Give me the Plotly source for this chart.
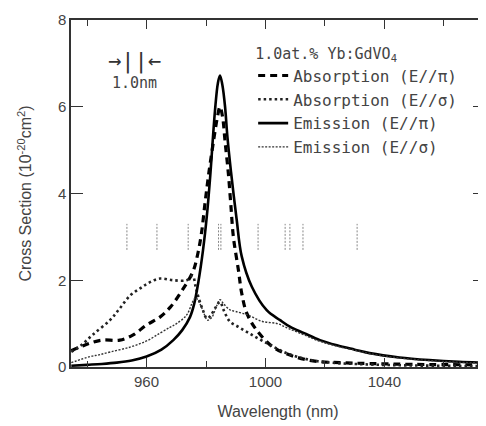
import plotly.graph_objects as go

# ---- data ----
em_pi_x = [934.7, 940, 945, 950, 955, 960, 965, 969, 972, 974.6, 976, 977.4, 979, 980.3, 981.3, 983, 984, 984.7,
           985.5, 986.4, 987.2, 988.4, 990.3, 992, 995.4, 1000.4, 1004.9, 1008.2, 1013, 1018.3, 1024, 1030, 1035,
           1045, 1055, 1065, 1074]
em_pi_y = [0.03, 0.05, 0.07, 0.1, 0.15, 0.24, 0.4, 0.62, 0.85, 1.15, 1.45, 1.95, 2.7, 3.5, 4.3, 5.9, 6.55, 6.72,
           6.5, 6.0, 5.3, 4.5, 3.4, 2.55, 1.85, 1.31, 1.08, 0.93, 0.78, 0.62, 0.5, 0.4, 0.32,
           0.22, 0.16, 0.12, 0.1]

ab_pi_x = [934.7, 937.6, 941, 945, 951, 955.5, 960, 964.5, 968, 972, 975.6, 977.2, 978.5, 979.7, 981, 982.5,
           983.8, 984.7, 985.6, 986.4, 987.5, 988.3, 989.2, 990.9, 992, 993.7, 997, 1002.5, 1008, 1016,
           1025, 1035, 1050, 1074]
ab_pi_y = [0.38, 0.46, 0.55, 0.62, 0.62, 0.74, 0.97, 1.15, 1.38, 1.77, 2.2, 2.6, 3.1, 3.8, 4.5, 5.2,
           5.75, 6.0, 5.75, 5.2, 4.47, 3.78, 3.0, 2.23, 1.7, 1.24, 0.85, 0.46, 0.28, 0.14,
           0.1, 0.08, 0.06, 0.05]

ab_sg_x = [934.7, 938, 942, 947.7, 951, 954.5, 958, 961, 964.5, 969, 973.5, 975.5, 976.5, 977.5, 979, 980.3,
           981.5, 983, 984.7, 986, 988, 991, 994, 997, 1000.4, 1002.6, 1006, 1010, 1016, 1022, 1030,
           1045, 1074]
ab_sg_y = [0.35, 0.5, 0.75, 1.08, 1.35, 1.65, 1.82, 1.95, 2.04, 2.0, 2.0, 2.1, 1.85, 1.6, 1.3, 1.12,
           1.18, 1.35, 1.5, 1.3, 1.05, 0.92, 0.8, 0.68, 0.55, 0.47, 0.35, 0.25, 0.15, 0.1, 0.07,
           0.04, 0.02]

em_sg_x = [934.7, 941, 944, 948, 954.5, 960, 964.5, 968, 970.1, 973.5, 975.5, 976.5, 978, 979.5, 980.5, 982,
           983.5, 984.7, 986, 988, 990, 994, 999, 1004, 1008, 1013, 1018, 1024, 1030, 1035, 1045,
           1055, 1065, 1074]
em_sg_y = [0.1, 0.24, 0.28, 0.35, 0.46, 0.6, 0.78, 0.92, 1.0, 1.2, 1.5, 1.6, 1.45, 1.2, 1.08, 1.15,
           1.4, 1.55, 1.45, 1.32, 1.28, 1.2, 1.05, 1.0, 0.88, 0.74, 0.6, 0.48, 0.39, 0.31, 0.21,
           0.15, 0.11, 0.09]

mark_x = [953.4, 963.5, 974.0, 984.2, 985.0, 997.5, 1006.6, 1008.2, 1012.6, 1030.8]
mark_y = [2.7, 3.3]

names = ["Absorption (E//π)", "Absorption (E//σ)", "Emission (E//π)", "Emission (E//σ)"]
legend_title = "1.0at.% Yb:GdVO<sub>4</sub>"

fig = go.Figure()

# vertical marker lines
mx, my = [], []
for v in mark_x:
    mx += [v, v, None]
    my += [mark_y[0], mark_y[1], None]
fig.add_trace(go.Scatter(x=mx, y=my, mode="lines", showlegend=False,
                         line=dict(color="#888888", width=1, dash="2px,1.5px"), hoverinfo="skip"))

fig.add_trace(go.Scatter(x=ab_pi_x, y=ab_pi_y, mode="lines", name=names[0], line_shape="spline",
                         line=dict(color="black", width=3.2, dash="7px,5px")))
fig.add_trace(go.Scatter(x=ab_sg_x, y=ab_sg_y, mode="lines", name=names[1], line_shape="spline",
                         line=dict(color="#222222", width=2.6, dash="2.5px,3px")))
fig.add_trace(go.Scatter(x=em_pi_x, y=em_pi_y, mode="lines", name=names[2], line_shape="spline",
                         line=dict(color="black", width=2.6)))
fig.add_trace(go.Scatter(x=em_sg_x, y=em_sg_y, mode="lines", name=names[3], line_shape="spline",
                         line=dict(color="#333333", width=1.4, dash="2px,1.5px")))

fig.add_annotation(x=956.0, y=7.05, text="→||←", showarrow=False, xref="x", yref="y",
                   font=dict(family="DejaVu Sans Mono", size=22, color="#333"))
fig.add_annotation(x=956.1, y=6.55, text="1.0nm", showarrow=False, xref="x", yref="y",
                   font=dict(family="DejaVu Sans Mono", size=15, color="#444"))

axis_common = dict(showline=True, linecolor="#333", linewidth=1.5, mirror="ticks",
                   ticks="inside", tickcolor="#333", showgrid=False, zeroline=False, automargin=False,
                   tickfont=dict(family="Liberation Sans, Arial", size=15, color="#444"))

fig.update_xaxes(range=[934.6, 1073.8], tickvals=[960, 1000, 1040], ticklen=9, tickwidth=1.3,
                 minor=dict(tickvals=[940, 980, 1020, 1060], ticklen=6, tickcolor="#333", ticks="inside"),
                 title=dict(text="Wavelength (nm)", font=dict(family="Liberation Sans, Arial", size=16, color="#444"),
                            standoff=17),
                 **axis_common)
fig.update_yaxes(range=[0, 8], tickvals=[0, 2, 4, 6, 8], ticklen=12, tickwidth=1.3,
                 title=dict(text="Cross Section (10<sup>-20</sup>cm<sup>2</sup>)",
                            font=dict(family="Liberation Sans, Arial", size=16, color="#444"), standoff=22),
                 **axis_common)

# the page body adds an 8 px offset, so the figure is 8 px smaller and margins compensate
fig.update_layout(
    width=478, height=418,
    margin=dict(l=63, r=1, t=12, b=59),
    plot_bgcolor="white", paper_bgcolor="white",
    legend=dict(x=0.44, y=0.945, xanchor="left", yanchor="top", bgcolor="rgba(0,0,0,0)",
                font=dict(family="DejaVu Sans Mono", size=16, color="#444"),
                title=dict(text=legend_title, font=dict(family="DejaVu Sans Mono", size=15, color="#444")),
                itemwidth=30, tracegroupgap=0),
)

fig.write_html("out.html")
